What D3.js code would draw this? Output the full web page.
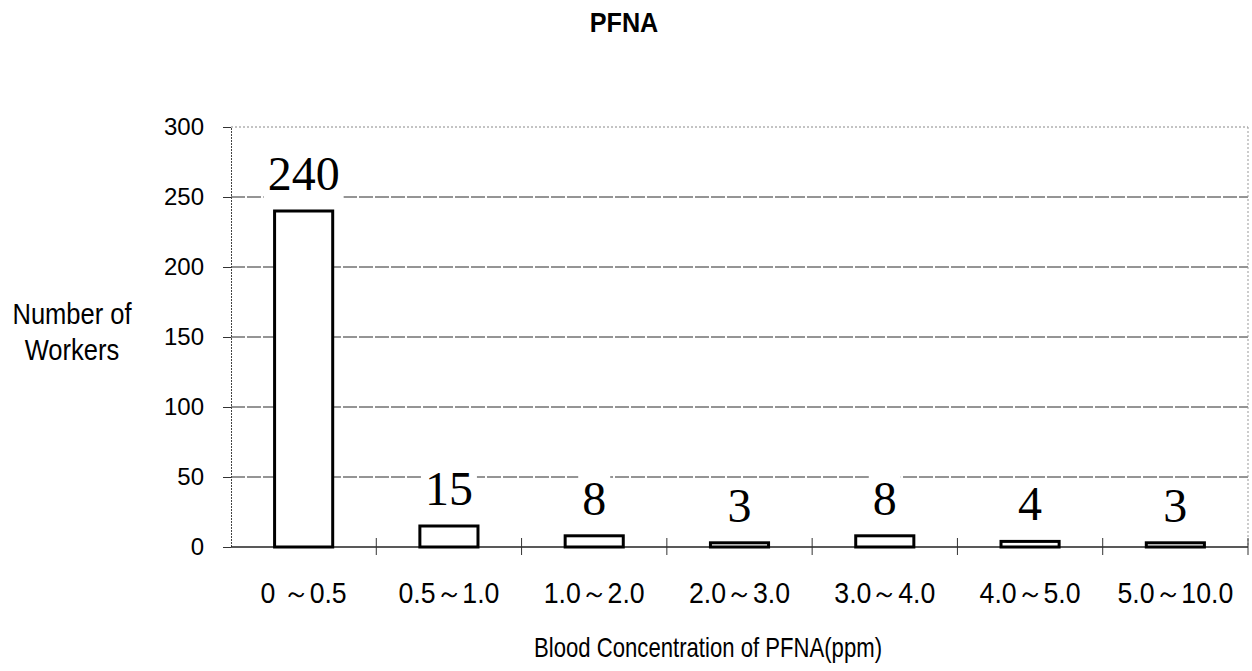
<!DOCTYPE html>
<html>
<head>
<meta charset="utf-8">
<script src="https://cdn.jsdelivr.net/npm/d3@7"></script>
<style>
  html, body { margin: 0; padding: 0; background: #fff; }
  svg { display: block; }
</style>
</head>
<body>
<svg id="chart" width="1252" height="671"></svg>
<script>
const title = "PFNA";
const categories = ["0 ～0.5", "0.5～1.0", "1.0～2.0", "2.0～3.0", "3.0～4.0", "4.0～5.0", "5.0～10.0"];
const workers = [240, 15, 8, 3, 8, 4, 3];
const yTicks = [0, 50, 100, 150, 200, 250, 300];
const yTitle = ["Number of", "Workers"];
const xTitle = "Blood Concentration of PFNA(ppm)";

const svg = d3.select("#chart");
const L = 231, R = 1248, T = 127, B = 547;

const x = d3.scaleBand().domain(categories).range([L, R]).paddingInner(0.6).paddingOuter(0.3);
const xb = d3.scaleLinear().domain([0, categories.length]).range([L, R]);
const y = d3.scaleLinear().domain([0, 300]).range([B, T]);

// gridlines
svg.append("g").selectAll("line").data(yTicks.filter(v => v > 0)).join("line")
  .attr("x1", L).attr("x2", R)
  .attr("y1", d => y(d)).attr("y2", d => y(d))
  .attr("stroke", d => d === 300 ? "#888" : "#2a2a2a")
  .attr("stroke-width", 1)
  .attr("stroke-dasharray", d => d === 300 ? "2,2" : "14,2");

// right border
svg.append("line").attr("x1", R).attr("x2", R).attr("y1", T).attr("y2", B)
  .attr("stroke", "#999").attr("stroke-dasharray", "2,2");

// y axis
const yAxis = d3.axisLeft(y).tickValues(yTicks).tickSize(8).tickPadding(19);
const gy = svg.append("g").attr("transform", `translate(${L},0)`).call(yAxis);
gy.select(".domain").attr("stroke", "#444").attr("stroke-dasharray", "2,1");
gy.selectAll(".tick line").attr("stroke", "#333");
gy.selectAll(".tick text").attr("font-family", "Liberation Sans, Arial, sans-serif")
  .attr("font-size", 24).attr("fill", "#000");

// x axis baseline
svg.append("line").attr("x1", L).attr("x2", R).attr("y1", y(0)).attr("y2", y(0))
  .attr("stroke", "#222").attr("stroke-width", 1.5);
// boundary ticks
svg.append("g").selectAll("line").data(d3.range(1, categories.length + 1)).join("line")
  .attr("x1", d => xb(d)).attr("x2", d => xb(d))
  .attr("y1", y(0) - 9).attr("y2", y(0) + 8)
  .attr("stroke", "#333").attr("stroke-width", 1);

// value labels with white background
const lab = svg.append("g");
const labels = lab.selectAll("text").data(categories.map((c, i) => ({c, v: workers[i]}))).join("text")
  .attr("x", d => x(d.c) + x.bandwidth() / 2)
  .attr("y", d => y(d.v) - 21)
  .attr("text-anchor", "middle")
  .attr("font-family", "Liberation Serif, Times New Roman, serif")
  .attr("font-size", 48)
  .attr("fill", "#000")
  .text(d => d.v);
labels.each(function() {
  const b = this.getBBox();
  lab.insert("rect", "text")
    .attr("x", b.x - 4).attr("y", b.y + 4).attr("width", b.width + 8).attr("height", b.height - 4)
    .attr("fill", "#fff");
});

// bars
svg.append("g").selectAll("rect").data(categories.map((c, i) => ({c, v: workers[i]}))).join("rect")
  .attr("x", d => x(d.c)).attr("width", x.bandwidth())
  .attr("y", d => y(d.v)).attr("height", d => y(0) - y(d.v))
  .attr("fill", "#fff").attr("stroke", "#000").attr("stroke-width", 3);

// x category labels
svg.append("g").selectAll("text").data(categories).join("text")
  .attr("transform", d => `translate(${x(d) + x.bandwidth() / 2},603) scale(0.92,1)`)
  .attr("text-anchor", "middle")
  .attr("font-family", "Liberation Sans, Arial, sans-serif")
  .attr("font-size", 29).attr("fill", "#000")
  .text(d => d);

// x title
svg.append("text")
  .attr("transform", "translate(708,657) scale(0.82,1)")
  .attr("text-anchor", "middle")
  .attr("font-family", "Liberation Sans, Arial, sans-serif")
  .attr("font-size", 27).attr("fill", "#000")
  .text(xTitle);

// y title
svg.append("g").selectAll("text").data(yTitle).join("text")
  .attr("transform", (d, i) => `translate(72,${324 + i * 36}) scale(0.88,1)`)
  .attr("text-anchor", "middle")
  .attr("font-family", "Liberation Sans, Arial, sans-serif")
  .attr("font-size", 29).attr("fill", "#000")
  .text(d => d);

// title
svg.append("text")
  .attr("transform", "translate(624,32) scale(0.9,1)")
  .attr("text-anchor", "middle")
  .attr("font-family", "Liberation Sans, Arial, sans-serif")
  .attr("font-weight", "bold")
  .attr("font-size", 28).attr("fill", "#000")
  .text(title);
</script>
</body>
</html>
